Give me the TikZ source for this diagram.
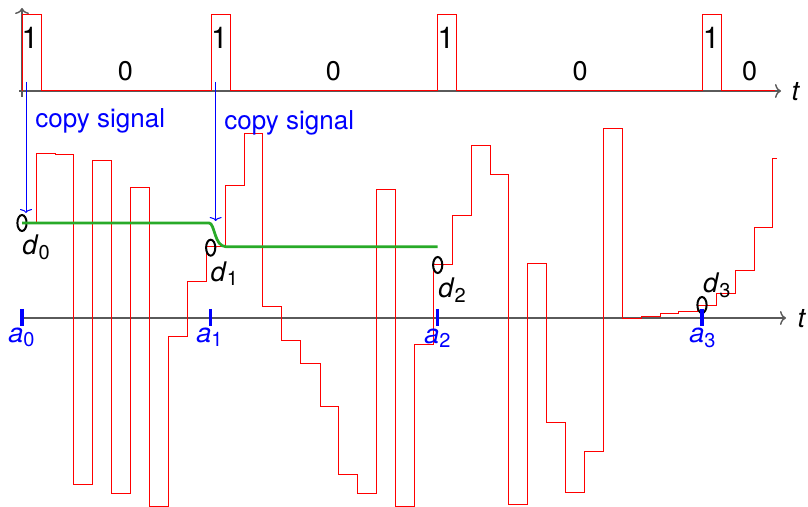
\documentclass[tikz,border=0pt]{standalone}
\usepackage{fontspec}
\setmainfont{TeX Gyre Heros}
\usepackage{tikz}
\usetikzlibrary{arrows.meta, shapes.geometric, positioning, calc}
\definecolor{holdgreen}{RGB}{40,170,40}
\definecolor{axisgray}{RGB}{90,90,90}
\newcommand{\idx}[2]{\textit{#1}\raisebox{-2.2pt}{\fontsize{10}{11}\selectfont #2}}

\begin{document}
\begin{tikzpicture}[x=0.5pt, y=-0.5pt,
  sig/.style={red, line width=0.5pt},
  axis/.style={-{To[length=3pt, width=7pt]}, axisgray, line width=0.7pt},
  hold/.style={holdgreen, line width=1.4pt},
  copyarr/.style={-{To[length=2pt, width=6pt]}, blue, line width=0.5pt},
  smp/.style={ellipse, draw, line width=1pt, minimum width=4.6pt,
              minimum height=8pt, inner sep=0pt},
  atick/.style={blue, line width=1.6pt},
  lbl/.style={font=\fontsize{13.5}{16}\selectfont, inner sep=0pt},
  bitlbl/.style={font=\fontsize{15}{18}\selectfont, inner sep=0pt},
  copylbl/.style={font=\fontsize{13}{16}\selectfont, text=blue, inner sep=0pt, anchor=west}
]
  \useasboundingbox (0,0) rectangle (808,507);

  % axes
  \draw[axis] (22,97) -- (22,8);
  \draw[axis] (19,91) -- (781,91);
  \node[lbl] (ttop) at (796,91.7) {\textit{t}};
  \draw[axis] (20,318) -- (786,318);
  \node[lbl] (tbot) at (802,319) {\textit{t}};

  % clock pulses
  \draw[sig] (22,91) |- (41,15) |- (211,91) |- (230,15) |- (437.7,91)
             |- (456.7,15) |- (702.3,91) |- (721.3,15) |- (775,91);
  \node[bitlbl] (b0) at (30,37.5)    {1};
  \node[bitlbl] (b1) at (219.5,37.5) {1};
  \node[bitlbl] (b2) at (446,37.5)   {1};
  \node[bitlbl] (b3) at (711.3,37.5) {1};
  \node[lbl] (z0) at (125.5,71.3) {0};
  \node[lbl] (z1) at (333.3,71.3) {0};
  \node[lbl] (z2) at (580,71.3)   {0};
  \node[lbl] (z3) at (749.7,71.3) {0};

  % sampled input
  \draw[sig] (22,223) -| (36,153.3) -| (55,155) -| (73.7,484) -| (92.3,161)
    -| (111,493) -| (130,187.3) -| (149,506.5) -| (168,336.7) -| (187.3,281.7)
    -| (206,246.7) -| (225,186) -| (244,134) -| (262.7,306.5) -| (281.7,340.7)
    -| (300.7,363.3) -| (320,406.7) -| (338.3,474) -| (357.3,493.3)
    -| (376.3,189.3) -| (395.3,506) -| (414.3,345) -| (433.3,264.7)
    -| (452,216) -| (471,145.7) -| (490,174.3) -| (508.7,504.3)
    -| (527.7,263.3) -| (546.7,422.7) -| (565.7,492.3) -| (584.3,451.7)
    -| (603,129) -| (622,318.3) -| (641,316.7) -| (660,314) -| (678.5,311.7)
    -| (697.5,305.5) -| (716.7,294) -| (735,271) -| (754,227.3)
    -| (772.7,158.3) -- (776.7,158.3);

  % samples
  \node[smp] (o0) at (22,223) {};
  \node[smp] (o1) at (210.7,247.7) {};
  \node[smp] (o2) at (437.7,265) {};
  \node[smp] (o3) at (702,305) {};
  \node[lbl] (d0) at (36,247.5)    {\idx{d}{0}};
  \node[lbl] (d1) at (224.3,273.7) {\idx{d}{1}};
  \node[lbl] (d2) at (452,290.3)   {\idx{d}{2}};
  \node[lbl] (d3) at (716.8,285.3) {\idx{d}{3}};

  % held value
  \coordinate (gend) at (437.7,246.7);
  \draw[hold] (o0.center) -- (209,223) .. controls (215,223) and (214,246.7) .. (226,246.7) -- (gend);

  % copy signal
  \coordinate (cs0) at (26,82);
  \coordinate (cs1) at (215.7,82);
  \draw[copyarr] (cs0) -- ++(0,131);
  \draw[copyarr] (cs1) -- ++(0,139);
  \node[copylbl] (cp0) at (35,121)  {copy signal};
  \node[copylbl] (cp1) at (224,123) {copy signal};

  % sample times
  \foreach \n/\x in {0/22, 1/210.7, 2/437.7, 3/702} {
    \coordinate (a\n) at (\x,318);
    \draw[atick] ($(a\n)+(0,-9)$) -- ($(a\n)+(0,8)$);
  }
  \node[lbl, text=blue] (al0) at (21.5,337.5) {\idx{a}{0}};
  \node[lbl, text=blue] (al1) at (209.5,337.5) {\idx{a}{1}};
  \node[lbl, text=blue] (al2) at (437.5,338) {\idx{a}{2}};
  \node[lbl, text=blue] (al3) at (702.5,338) {\idx{a}{3}};
\end{tikzpicture}
\end{document}
